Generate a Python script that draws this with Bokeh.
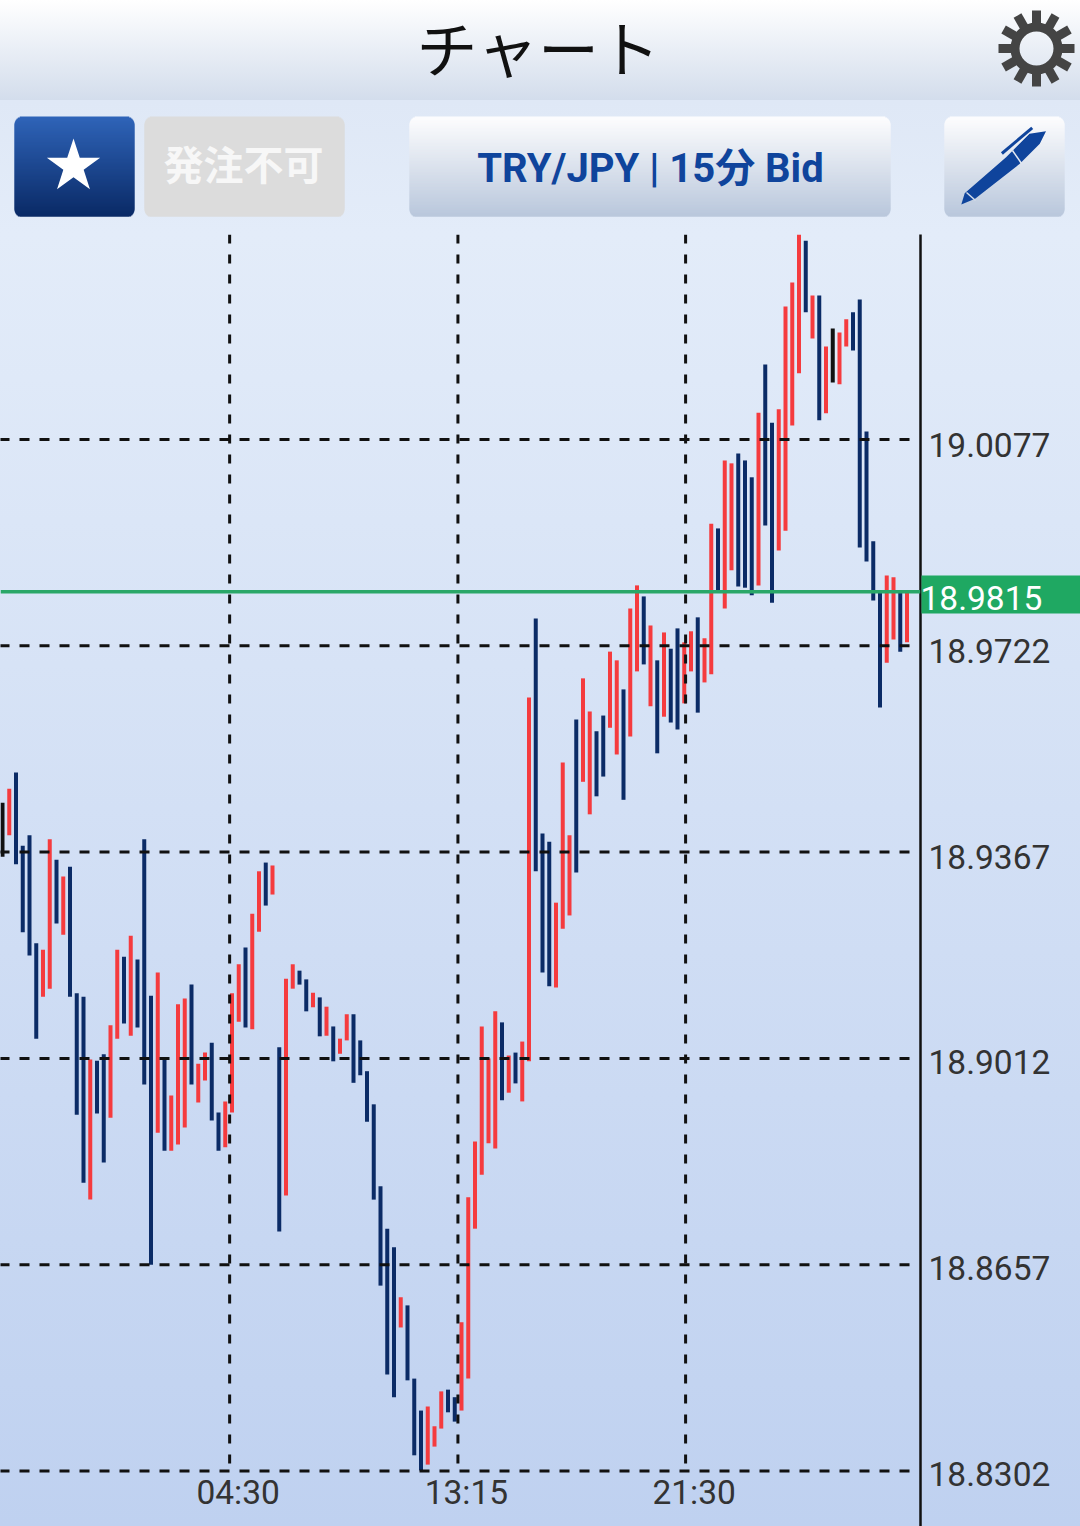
import math
from bokeh.plotting import figure
from bokeh.layouts import column
from bokeh.models import (Range1d, LinearAxis, FixedTicker, NumeralTickFormatter, Span)
from bokeh.core.properties import value
from bokeh.embed import file_html
from bokeh.resources import INLINE

# ---------- data ----------
title_text = "チャート"
order_text = "発注不可"
pair_text = "TRY/JPY | 15分 Bid"
price_ticks = [19.0077, 18.9722, 18.9367, 18.9012, 18.8657, 18.8302]
time_ticks = [33.65, 67.47, 101.2]
time_labels = ["04:30", "13:15", "21:30"]
current_price = 18.9815

highs = [18.9452,18.9476,18.9504,18.9378,18.9396,18.9210,18.9199,18.9389,18.9354,18.9325,
         18.9342,18.9124,18.9118,18.9010,18.9008,18.9019,18.9069,18.9199,18.9187,18.9223,
         18.9182,18.9389,18.9120,18.9160,18.9010,18.8948,18.9105,18.9115,18.9139,18.9003,
         18.9022,18.9039,18.8919,18.8938,18.9124,18.9174,18.9203,18.9261,18.9334,18.9349,
         18.9344,18.9031,18.9149,18.9174,18.9163,18.9148,18.9125,18.9117,18.9101,18.9067,
         18.9046,18.9088,18.9088,18.9043,18.8990,18.8933,18.8792,18.8719,18.8687,18.8601,
         18.8587,18.8461,18.8406,18.8413,18.8379,18.8439,18.8442,18.8429,18.8558,18.8773,
         18.8869,18.9067,18.9012,18.9093,18.9074,18.9017,18.9022,18.9041,18.9633,18.9769,
         18.9399,18.9385,18.9280,18.9521,18.9396,18.9595,18.9666,18.9609,18.9575,18.9602,
         18.9712,18.9697,18.9647,18.9786,18.9826,18.9807,18.9757,18.9697,18.9745,18.9717,
         18.9752,18.9728,18.9747,18.9771,18.9735,18.9932,18.9924,19.0041,19.0036,19.0053,
         19.0041,19.0012,19.0123,19.0206,19.0106,19.0129,19.0306,19.0347,19.0430,19.0419,
         19.0325,19.0325,19.0237,19.0268,19.0261,19.0284,19.0296,19.0318,19.0091,18.9902,
         18.9814,18.9843,18.9840,18.9814,18.9814]
lows =  [18.9359,18.9396,18.9346,18.9229,18.9189,18.9046,18.9118,18.9132,18.9244,18.9225,
         18.9118,18.8915,18.8798,18.8769,18.8917,18.8833,18.8910,18.9046,18.9072,18.9051,
         18.9065,18.8967,18.8657,18.8884,18.8853,18.8853,18.8864,18.8893,18.8967,18.8936,
         18.8974,18.8905,18.8853,18.8859,18.8919,18.9075,18.9065,18.9062,18.9230,18.9275,
         18.9294,18.8714,18.8776,18.9132,18.9139,18.9093,18.9100,18.9050,18.9051,18.9007,
         18.9020,18.9043,18.8970,18.8983,18.8903,18.8769,18.8621,18.8468,18.8429,18.8549,
         18.8458,18.8329,18.8303,18.8313,18.8344,18.8375,18.8403,18.8387,18.8406,18.8461,
         18.8719,18.8812,18.8866,18.8857,18.8940,18.8953,18.8969,18.8938,18.9007,18.9334,
         18.9160,18.9136,18.9134,18.9235,18.9258,18.9332,18.9488,18.9432,18.9463,18.9497,
         18.9581,18.9535,18.9457,18.9566,18.9678,18.9690,18.9618,18.9537,18.9600,18.9590,
         18.9578,18.9623,18.9678,18.9607,18.9659,18.9673,18.9815,18.9786,18.9852,18.9824,
         18.9822,18.9809,18.9826,18.9929,18.9796,18.9886,18.9920,19.0101,19.0191,19.0296,
         19.0251,19.0110,19.0122,19.0175,19.0172,19.0237,19.0230,18.9891,18.9867,18.9800,
         18.9616,18.9693,18.9733,18.9712,18.9728]
kinds = list("krbbbbrrbr" "bbbrbbrrbr" "bbbrbrrrbr" "rbbrrrbrrb"
             "rbrrbbrbrb" "rrbbbbbbbr" "bbbrrrbbrr" "rrrrbrbrrb"
             "bbrrrbrrbb" "rrbrrbrbrb" "brrbrrbrrb" "bbrbbrrrrb"
             "rbrkrrbbbb" "brrbr")
bar_colors = {"r": "#f53b3e", "b": "#0b2b66", "k": "#111111"}

# ---------- header ----------
def band(p, left, right, top, bottom, c0, c1, radius=8):
    ls, rs, ts, bs, cs = [], [], [], [], []
    n = bottom - top
    for k in range(n):
        d = min(k + 0.5, n - k - 0.5)
        inset = radius - math.sqrt(max(radius**2 - (radius - d)**2, 0)) if d < radius else 0
        t = k / (n - 1)
        col = tuple(round(c0[j] + (c1[j] - c0[j]) * t) for j in range(3))
        ls.append(left + inset); rs.append(right - inset)
        ts.append(top + k); bs.append(min(top + k + 2, bottom))
        cs.append("#%02x%02x%02x" % col)
    p.quad(left=ls, right=rs, top=ts, bottom=bs, fill_color=cs, fill_alpha=1, line_color=None)

head = figure(width=1080, height=234, frame_width=1080, frame_height=234,
              x_range=Range1d(0, 1080), y_range=Range1d(234, 0),
              output_backend="svg", toolbar_location=None, x_axis_type=None, y_axis_type=None,
              min_border=0, outline_line_color=None,
              background_fill_alpha=0, border_fill_alpha=0)
head.styles = {"background": "linear-gradient(to bottom, #ffffff 0px, #d3ddec 100px, #dfe8f6 100px, #e3ecf9 234px)"}
head.grid.visible = False

band(head, 14, 134, 116, 216, (0x2f, 0x64, 0xb8), (0x0a, 0x2a, 0x66))
band(head, 144, 344, 116, 216, (0xdc, 0xdc, 0xdc), (0xdc, 0xdc, 0xdc))
band(head, 409, 890, 116, 216, (0xfd, 0xfd, 0xfe), (0xb9, 0xc7, 0xdc))
band(head, 944, 1064, 116, 216, (0xfd, 0xfd, 0xfe), (0xb9, 0xc7, 0xdc))

head.scatter([73], [166], marker="star", size=56, fill_color="white", line_color=None)
head.text([538], [46], text=[title_text], text_align="center", text_baseline="middle",
          text_font=value("Noto Sans CJK JP"), text_font_size="61px", text_color="#111111")
head.text([243], [162], text=[order_text], text_align="center", text_baseline="middle",
          text_font=value("Noto Sans CJK JP"), text_font_size="40px", text_font_style="bold",
          text_color="#f7f7f7")
head.text([650], [168], text=[pair_text], text_align="center", text_baseline="middle",
          text_font=value("Roboto, 'Noto Sans CJK JP'"), text_font_size="40px",
          text_font_style="bold", text_color="#0f449c")

# gear
gx, gy = 1036, 48
head.annulus([gx], [gy], inner_radius=17, outer_radius=26, fill_color="#444444", line_color=None)
ang = [k * math.pi / 6 for k in range(12)]
head.segment([gx + 24 * math.cos(a) for a in ang], [gy + 24 * math.sin(a) for a in ang],
             [gx + 38 * math.cos(a) for a in ang], [gy + 38 * math.sin(a) for a in ang],
             line_color="#444444", line_width=9, line_cap="butt")

# pen
head.patch([960.8, 964.2, 1005.6, 1029, 1045.5, 1039.3, 1019.3, 974.6],
           [204, 192.7, 156.7, 133.3, 130.7, 143.3, 163.3, 198.3],
           fill_color="#0f449c", line_color=None)
head.line([1001.4, 1031.7], [153, 127.3], line_color="#0f449c", line_width=3)
head.line([1012, 1021], [150, 163], line_color="#e4e9f2", line_width=1.5)
head.line([966, 975], [192, 200], line_color="#d5dce8", line_width=1.5)

# ---------- chart ----------
y_lo, y_hi = 18.82065, 19.04298
x_lo, x_hi = -0.2963, 136.0

p = figure(width=1080, height=1292, frame_width=920, frame_height=1292,
           x_range=Range1d(x_lo, x_hi), y_range=Range1d(y_lo, y_hi),
           output_backend="svg", toolbar_location=None, x_axis_type=None, y_axis_type=None,
           min_border=0, min_border_right=160, outline_line_color=None,
           background_fill_alpha=0, border_fill_alpha=0)
p.styles = {"background": "linear-gradient(to bottom, #e3ecf9 0px, #bfd1f0 1292px)"}
p.grid.visible = False
p.extra_y_ranges = {"lab": Range1d(18.82114, 19.04401)}
p.extra_x_ranges = {"lab": Range1d(x_lo - 1.26, x_hi - 1.26)}

idx = list(range(len(highs)))
p.vbar(x=idx, top=highs, bottom=lows, width=0.5926,
       fill_color=[bar_colors[k] for k in kinds], line_color=None)

# dashed grid
grid_bottom = min(price_ticks)
p.segment(x0=[-0.444] * len(price_ticks), y0=price_ticks, x1=[134.5] * len(price_ticks), y1=price_ticks,
          line_color="#111111", line_width=3, line_dash="10 10", line_cap="butt")
p.segment(x0=time_ticks, y0=[y_hi] * 3, x1=time_ticks, y1=[grid_bottom] * 3,
          line_color="#111111", line_width=3, line_dash="9 11", line_cap="butt")

p.add_layout(Span(location=current_price, dimension="width", line_color="#2aa768", line_width=3.5))

yax = LinearAxis(y_range_name="lab", ticker=FixedTicker(ticks=price_ticks),
                 formatter=NumeralTickFormatter(format="0.0000"),
                 major_tick_line_color=None, minor_tick_line_color=None,
                 major_tick_in=0, major_tick_out=0, minor_tick_out=0,
                 axis_line_color="#111111", axis_line_width=2.5,
                 major_label_standoff=8, major_label_text_font="Roboto",
                 major_label_text_font_size="33.5px", major_label_text_color="#333333")
p.add_layout(yax, "right")

xax = LinearAxis(x_range_name="lab", ticker=FixedTicker(ticks=time_ticks),
                 major_label_overrides=dict(zip(time_ticks, time_labels)),
                 major_tick_line_color=None, minor_tick_line_color=None,
                 major_tick_in=0, major_tick_out=0, minor_tick_out=0,
                 axis_line_color=None, major_label_standoff=-54,
                 major_label_text_font="Roboto", major_label_text_font_size="33.5px",
                 major_label_text_color="#333333")
p.add_layout(xax, "below")

# current-price tag, laid over the right-hand axis
tag = figure(width=160, height=50, frame_width=160, frame_height=50,
             x_range=Range1d(0, 160), y_range=Range1d(50, 0),
             output_backend="svg", toolbar_location=None, x_axis_type=None, y_axis_type=None,
             min_border=0, outline_line_color=None,
             background_fill_alpha=0, border_fill_alpha=0)
tag.grid.visible = False
tag.styles = {"position": "absolute", "left": "920px", "top": "569px", "z-index": "10"}
tag.quad(left=[1], right=[160], top=[6], bottom=[44], fill_color="#1fa862", fill_alpha=1, line_color=None)
tag.text([0], [28], text=["%.4f" % current_price], text_align="left", text_baseline="middle",
         text_font=value("Roboto"), text_font_size="33.5px", text_color="white")

open("out.html", "w").write(file_html(column(column(head), column(p), tag, spacing=0), INLINE))
